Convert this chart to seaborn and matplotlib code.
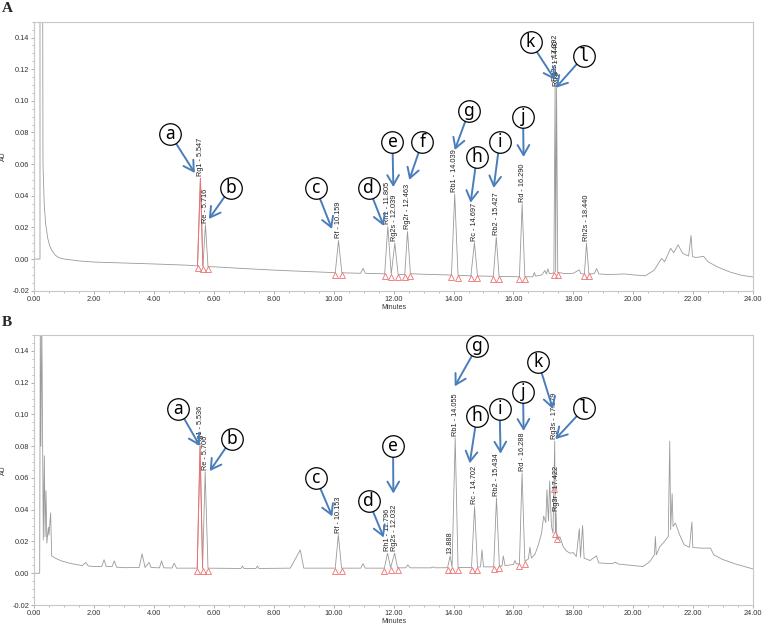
import numpy as np
import matplotlib
matplotlib.use('Agg')
import matplotlib.pyplot as plt
import seaborn as sns
from matplotlib.ticker import MultipleLocator, FormatStrFormatter

# ---------------------------------------------------------------
# Chromatogram A (standard mix) - trace vertices
# ---------------------------------------------------------------
a_time = [0.00, 0.19, 0.19, 0.28, 0.29, 0.33, 0.38, 0.45, 0.52, 0.60, 0.70, 0.80, 1.00,
          1.50, 2.00, 3.00, 4.00, 5.00, 5.45, 5.547, 5.63, 5.716, 5.80, 6.00, 7.00, 8.00,
          9.00, 10.05, 10.159, 10.27, 10.90, 10.98, 11.05, 11.50, 11.70, 11.805, 11.92,
          12.039, 12.15, 12.37, 12.463, 12.56, 12.70, 13.00, 13.93, 14.039, 14.15, 14.58,
          14.697, 14.80, 15.33, 15.427, 15.52, 16.20, 16.290, 16.38, 16.65, 16.70, 16.74,
          16.95, 17.05, 17.10, 17.15, 17.20, 17.35, 17.392, 17.41, 17.44, 17.48, 17.60,
          17.70, 18.00, 18.20, 18.25, 18.37, 18.440, 18.52, 18.70, 18.78, 18.85, 19.20,
          19.70, 20.00, 20.40, 20.70, 20.95, 21.05, 21.25, 21.35, 21.50, 21.65, 21.85,
          21.93, 21.98, 22.10, 22.35, 22.50, 22.80, 23.20, 23.60, 24.00]
a_au = [0.0, 0.0, 0.16, 0.16, 0.06, 0.035, 0.022, 0.013, 0.008, 0.005, 0.0025, 0.001, 0.0,
        -0.0012, -0.0019, -0.0025, -0.0031, -0.0038, -0.0043, 0.051, -0.0045, 0.0217, -0.0048,
        -0.0049, -0.006, -0.007, -0.0078, -0.0086, 0.0117, -0.0087, -0.009, -0.0058, -0.009,
        -0.0092, -0.0094, 0.0206, -0.0096, 0.010, -0.0097, -0.0098, 0.0174, -0.0092, -0.0094,
        -0.0096, -0.0101, 0.0409, -0.0103, -0.0106, 0.0104, -0.0107, -0.0109, 0.0138, -0.011,
        -0.0112, 0.0349, -0.0112, -0.0112, -0.0085, -0.0108, -0.0100, -0.0072, -0.0095,
        -0.0062, -0.0092, -0.0088, 0.111, -0.008, 0.108, -0.0085, -0.0088, -0.0092, -0.0090,
        -0.0068, -0.0092, -0.0095, 0.010, -0.0095, -0.0092, -0.006, -0.0094, -0.0098, -0.0094,
        -0.0100, -0.0106, -0.0070, 0.0004, -0.0017, 0.0068, 0.0040, 0.0090, 0.0036, 0.0019,
        0.0149, 0.0015, 0.0010, 0.0017, -0.0017, -0.0049, -0.0080, -0.0102, -0.0113]

a_peak_names = ['Rg1 - 5.547', 'Re - 5.716', 'Rf - 10.159', 'Rh1 - 11.805', 'Rg2s - 12.039',
                'Rg2r - 12.463', 'Rb1 - 14.039', 'Rc - 14.697', 'Rb2 - 15.427', 'Rd - 16.290',
                'Rg3s - 17.392', 'Rg3r - 17.440', 'Rh2s - 18.440']
a_peak_rt = [5.547, 5.716, 10.159, 11.805, 12.039, 12.463, 14.039, 14.697, 15.427, 16.290,
             17.392, 17.44, 18.440]
a_marks = [5.45, 5.63, 5.80, 10.05, 10.27, 11.70, 11.92, 12.15, 12.37, 12.56, 13.93, 14.15,
           14.58, 14.80, 15.33, 15.52, 16.20, 16.38, 17.35, 17.48, 18.37, 18.52]

# ---------------------------------------------------------------
# Chromatogram B (sample)
# ---------------------------------------------------------------
b_time = [0.00, 0.18, 0.20, 0.22, 0.25, 0.30, 0.335, 0.36, 0.39, 0.42, 0.47, 0.49, 0.545,
          0.58, 0.70, 0.90, 1.20, 1.60, 1.72, 1.80, 2.00, 2.25, 2.33, 2.40, 2.60, 2.67, 2.75,
          3.00, 3.50, 3.60, 3.70, 3.83, 3.90, 4.18, 4.25, 4.32, 4.60, 4.67, 4.75, 5.00, 5.44,
          5.536, 5.62, 5.706, 5.80, 6.90, 6.95, 7.00, 7.40, 7.45, 7.50, 8.55, 8.88, 9.00,
          10.05, 10.153, 10.26, 10.90, 10.98, 11.05, 11.69, 11.796, 11.90, 12.032, 12.13,
          12.40, 12.47, 12.55, 13.25, 13.32, 13.40, 13.80, 13.888, 13.95, 14.055, 14.15,
          14.60, 14.702, 14.80, 14.90, 14.95, 15.00, 15.34, 15.434, 15.53, 15.62, 15.66,
          15.72, 16.00, 16.05, 16.10, 16.20, 16.288, 16.38, 16.50, 16.55, 16.60, 16.72,
          16.83, 16.94, 17.01, 17.08, 17.12, 17.17, 17.21, 17.27, 17.32, 17.379, 17.40,
          17.422, 17.45, 17.49, 17.55, 17.66, 17.77, 17.89, 18.00, 18.10, 18.20, 18.24,
          18.31, 18.36, 18.56, 18.77, 18.85, 19.30, 19.40, 19.50, 20.00, 20.33, 20.55,
          20.71, 20.74, 20.77, 20.89, 21.00, 21.17, 21.22, 21.25, 21.30, 21.33, 21.41,
          21.55, 21.70, 21.88, 21.96, 21.99, 22.30, 22.58, 22.69, 22.97, 23.40, 24.00]
b_au = [0.0, 0.0, 0.16, 0.08, 0.16, 0.021, 0.074, 0.023, 0.052, 0.019, 0.029, 0.024, 0.038,
        0.011, 0.0095, 0.0078, 0.0062, 0.0048, 0.0068, 0.0046, 0.0042, 0.0042, 0.0085,
        0.0043, 0.0042, 0.0078, 0.0038, 0.0035, 0.0036, 0.0122, 0.0036, 0.0068, 0.0036,
        0.0034, 0.0078, 0.0034, 0.0033, 0.0064, 0.0032, 0.0032, 0.0032, 0.080, 0.0032,
        0.064, 0.0032, 0.0030, 0.0045, 0.0030, 0.0030, 0.0045, 0.0030, 0.0032, 0.0147,
        0.0032, 0.0032, 0.0242, 0.0032, 0.0032, 0.0060, 0.0032, 0.0032, 0.0126, 0.0036,
        0.0126, 0.0034, 0.0034, 0.0053, 0.0034, 0.0034, 0.0040, 0.0034, 0.0035, 0.0109,
        0.0038, 0.0853, 0.0036, 0.0036, 0.0420, 0.0038, 0.0040, 0.0147, 0.0040, 0.0040,
        0.0474, 0.0045, 0.0045, 0.0109, 0.0048, 0.0055, 0.0080, 0.0058, 0.0060, 0.0632,
        0.0075, 0.0090, 0.0164, 0.0095, 0.0120, 0.0177, 0.0253, 0.0360, 0.0320, 0.0526,
        0.0330, 0.0580, 0.0295, 0.0253, 0.0832, 0.0260, 0.0380, 0.0230, 0.0211, 0.0230,
        0.0168, 0.0140, 0.0126, 0.0130, 0.0105, 0.0280, 0.0100, 0.0300, 0.0095, 0.0080,
        0.0110, 0.0065, 0.0060, 0.0070, 0.0058, 0.0048, 0.0042, 0.0073, 0.0116, 0.0231,
        0.0116, 0.0168, 0.0190, 0.0231, 0.0831, 0.0274, 0.0500, 0.0295, 0.0316, 0.0242,
        0.0179, 0.0164, 0.0322, 0.0162, 0.0158, 0.0158, 0.0116, 0.0088, 0.0059, 0.0027]

b_peak_names = ['Rg1 - 5.536', 'Re - 5.706', 'Rf - 10.153', 'Rh1 - 11.796', 'Rg2s - 12.032',
                '13.888', 'Rb1 - 14.055', 'Rc - 14.702', 'Rb2 - 15.434', 'Rd - 16.288',
                'Rg3s - 17.379', 'Rg3r - 17.422']
b_peak_rt = [5.536, 5.706, 10.153, 11.796, 12.032, 13.888, 14.055, 14.702, 15.434, 16.288,
             17.379, 17.422]
b_marks = [5.44, 5.62, 5.80, 10.05, 10.26, 11.69, 11.90, 12.13, 13.80, 13.95, 14.15, 14.60,
           14.80, 15.34, 15.53, 16.20, 16.38, 17.35, 17.40, 17.45]

# circled letters: letter, circle centre (min, AU), arrow tip (min, AU)
a_letters = ['a', 'b', 'c', 'd', 'e', 'f', 'g', 'h', 'i', 'j', 'k', 'l']
a_circ = [(4.53, 0.0791), (6.56, 0.0449), (9.40, 0.0449), (11.17, 0.0449), (11.96, 0.0742),
          (12.96, 0.0742), (14.52, 0.0936), (14.78, 0.0647), (15.54, 0.0742), (16.32, 0.0896),
          (16.57, 0.1371), (18.36, 0.1284)]
a_tip = [(5.36, 0.0544), (5.83, 0.0253), (9.94, 0.0190), (11.67, 0.0209), (11.99, 0.0455),
         (12.52, 0.0500), (14.04, 0.0689), (14.57, 0.0356), (15.34, 0.0449), (16.34, 0.0645),
         (17.39, 0.1132), (17.41, 0.1082)]
b_letters = ['a', 'b', 'c', 'd', 'e', 'g', 'h', 'i', 'j', 'k', 'l']
b_circ = [(4.81, 0.1037), (6.59, 0.0844), (9.40, 0.0601), (11.17, 0.0453), (11.98, 0.0800),
          (14.79, 0.1428), (14.78, 0.0987), (15.54, 0.1033), (16.32, 0.1139), (16.83, 0.1329),
          (18.36, 0.1039)]
b_tip = [(5.53, 0.0801), (5.86, 0.0643), (9.95, 0.0358), (11.67, 0.0225), (11.99, 0.0502),
         (14.04, 0.1177), (14.54, 0.0692), (15.57, 0.0753), (16.34, 0.0896), (17.32, 0.1033),
         (17.40, 0.0844)]

sns.set_theme(style='ticks')
plt.rcParams['font.family'] = ['Liberation Sans', 'DejaVu Sans']

fig = plt.figure(figsize=(7.62, 6.24), dpi=100)
W, H = 762, 624
axA = fig.add_axes([34.3 / W, 1 - 290.7 / H, (753 - 34.3) / W, (290.7 - 21.7) / H])
axB = fig.add_axes([34.3 / W, 1 - 605 / H, (753 - 34.3) / W, (605 - 335) / H])

trace_col = '#9a9a9a'
red = '#f07070'
blue = '#4a7ebb'


def draw_panel(ax, t, au, names, rts, marks, letters, circ, tip):
    t = np.array(t)
    au = np.array(au)
    sns.lineplot(x=t, y=au, sort=False, estimator=None, color=trace_col, lw=0.6, ax=ax)

    # first peak (Rg1) integrated in red
    sel = (t >= marks[0]) & (t <= marks[1])
    ax.plot(t[sel], au[sel], color=red, lw=0.7, zorder=3)

    # peak start/end markers
    mt = np.array(marks)
    ax.plot(mt, np.interp(mt, t[5:], au[5:]) - 0.0015, ls='none', marker='^', ms=5,
            mfc='none', mec=red, mew=0.6, zorder=3)

    # peak labels
    for name, rt in zip(names, rts):
        ax.annotate(name, xy=(rt, np.interp(rt, t[5:], au[5:])), xytext=(0, 1.5),
                    textcoords='offset points', rotation=90, ha='center', va='bottom',
                    fontsize=5.3, color='#222222')

    # circled letters with blue arrows
    for let, c, p in zip(letters, circ, tip):
        ax.annotate('', xy=p, xytext=c,
                    arrowprops=dict(arrowstyle='->,head_length=0.6,head_width=0.35',
                                    color=blue, lw=1.4, shrinkA=7.5, shrinkB=0),
                    zorder=4)
        ax.plot([c[0]], [c[1]], marker='o', ms=15.5, mfc='white', mec='black', mew=0.9,
                zorder=5, clip_on=False)
        fam = ['DejaVu Sans Mono'] if let == 'l' else ['Noto Sans', 'DejaVu Sans']
        ax.text(c[0], c[1], let, ha='center', va='center', fontsize=12.5, family=fam,
                zorder=6, color='black')

    ax.set_xlim(0, 24)
    ax.set_ylim(-0.02, 0.15)
    ax.xaxis.set_major_locator(MultipleLocator(2))
    ax.xaxis.set_minor_locator(MultipleLocator(0.5))
    ax.xaxis.set_major_formatter(FormatStrFormatter('%.2f'))
    ax.yaxis.set_major_locator(MultipleLocator(0.02))
    ax.yaxis.set_minor_locator(MultipleLocator(0.005))
    ax.yaxis.set_major_formatter(FormatStrFormatter('%.2f'))
    ax.tick_params(which='major', length=2.5, width=0.6, color='#a0a0a0', labelsize=5.3,
                   labelcolor='#333333', pad=1)
    ax.tick_params(which='minor', length=1.5, width=0.5, color='#a0a0a0')
    for s in ax.spines.values():
        s.set_color('#c8c8c8')
        s.set_linewidth(0.8)
        s.set_visible(True)
    ax.set_xlabel('Minutes', fontsize=5, labelpad=1, color='#333333')
    ax.set_ylabel('AU', fontsize=5, labelpad=4, color='#333333')


draw_panel(axA, a_time, a_au, a_peak_names, a_peak_rt, a_marks, a_letters, a_circ, a_tip)
draw_panel(axB, b_time, b_au, b_peak_names, b_peak_rt, b_marks, b_letters, b_circ, b_tip)

fig.text(0.002, 1 - 2 / H, 'A', family='Liberation Serif', weight='bold', fontsize=11, va='top')
fig.text(0.002, 1 - 316 / H, 'B', family='Liberation Serif', weight='bold', fontsize=11, va='top')

fig.savefig('out.png', dpi=100)
